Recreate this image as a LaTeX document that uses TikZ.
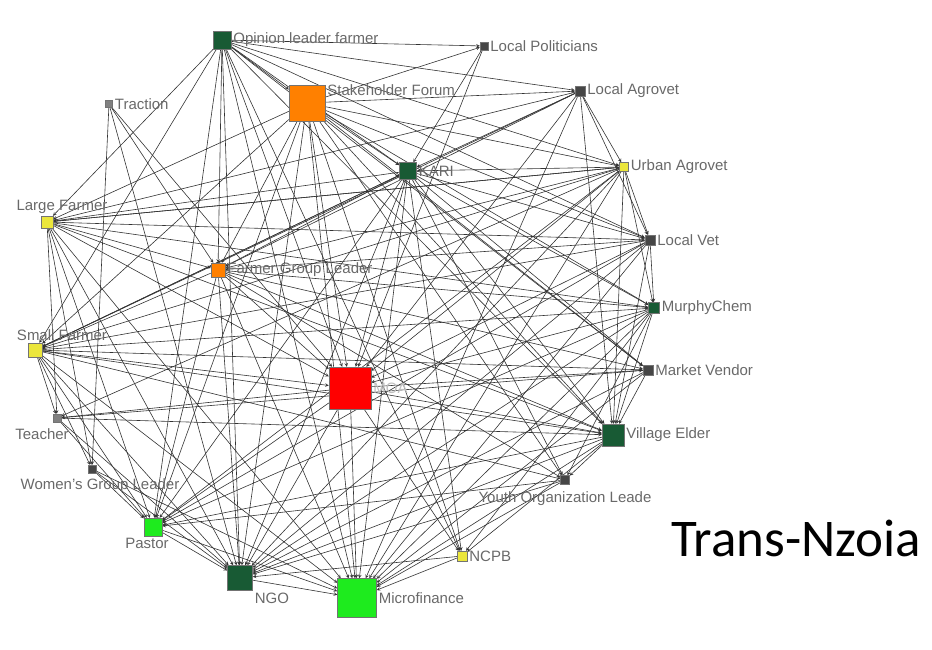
\documentclass[tikz,border=0pt]{standalone}
\usepackage{fontspec}
\setmainfont{Liberation Sans}
\newfontfamily\titlefont{Carlito}
\usepackage{tikz}
\usetikzlibrary{arrows, backgrounds}
\definecolor{dkgreen}{RGB}{24,90,52}
\definecolor{forum}{RGB}{255,128,0}
\definecolor{ltgreen}{RGB}{30,235,30}
\definecolor{farmyellow}{RGB}{235,230,60}
\definecolor{minor}{RGB}{70,70,70}
\definecolor{lblgray}{RGB}{105,105,105}
\tikzset{
    actor/.style={rectangle, draw=black!55, minimum size=#1, inner sep=0pt},
    lbl/.style={font=\fontsize{15}{15}\selectfont, text=lblgray, inner sep=2pt},
    link/.style={->, >=stealth, draw=black!80, line width=0.6pt}
}

\begin{document}
\begin{tikzpicture}[x=1pt, y=-1pt]
    \useasboundingbox (0,0) rectangle (932,649);
    % actors
    \node (olf)    at (222,40)  [actor=18, fill=dkgreen,    label={[lbl]right:Opinion leader farmer}] {};
    \node (pol)    at (484,46)  [actor=8,  fill=minor,      label={[lbl]right:Local Politicians}] {};
    \node (trac)   at (109,104) [actor=7,  fill=gray,       label={[lbl]right:Traction}] {};
    \node (sf)     at (307,103) [actor=36, fill=forum,      label={[lbl, yshift=13]right:Stakeholder Forum}] {};
    \node (lagro)  at (580,91)  [actor=10, fill=minor,      label={[lbl]right:Local Agrovet}] {};
    \node (uagro)  at (624,167) [actor=9,  fill=farmyellow, label={[lbl]right:Urban Agrovet}] {};
    \node (kari)   at (408,171) [actor=17, fill=dkgreen,    label={[lbl]right:KARI}] {};
    \node (lfarm)  at (47,222)  [actor=12, fill=farmyellow, label={[lbl, xshift=15]above:Large Farmer}] {};
    \node (lvet)   at (650,240) [actor=10, fill=minor,      label={[lbl]right:Local Vet}] {};
    \node (fgl)    at (218,270) [actor=14, fill=forum,      label={[lbl]right:Farmer Group Leader}] {};
    \node (murphy) at (654,308) [actor=11, fill=dkgreen,    label={[lbl]right:MurphyChem}] {};
    \node (sfarm)  at (35,350)  [actor=14, fill=farmyellow, label={[lbl, xshift=27]above:Small Farmer}] {};
    \node (moa)    at (350,388) [actor=42, fill=red,        label={[lbl, text=black!25]right:MOA}] {};
    \node (mvend)  at (648,370) [actor=10, fill=minor,      label={[lbl]right:Market Vendor}] {};
    \node (teach)  at (57,418)  [actor=8,  fill=gray,       label={[lbl, xshift=-15, yshift=-4]below:Teacher}] {};
    \node (elder)  at (613,435) [actor=22, fill=dkgreen,    label={[lbl]right:Village Elder}] {};
    \node (wgl)    at (92,469)  [actor=8,  fill=minor,      label={[lbl, xshift=8, yshift=-3]below:Women's Group Leader}] {};
    \node (youth)  at (565,480) [actor=9,  fill=minor,      label={[lbl, yshift=-5]below:Youth Organization Leade}] {};
    \node (pastor) at (153,527) [actor=18, fill=ltgreen,    label={[lbl, xshift=-6]below:Pastor}] {};
    \node (ncpb)   at (462,556) [actor=10, fill=farmyellow, label={[lbl]right:NCPB}] {};
    \node (ngo)    at (240,578) [actor=25, fill=dkgreen,    label={[lbl]below right:NGO}] {};
    \node (micro)  at (357,598) [actor=39, fill=ltgreen,    label={[lbl]right:Microfinance}] {};
    \node (county) at (796,538) [font=\titlefont\fontsize{53}{53}\selectfont] {Trans-Nzoia};
    % ties
    \begin{pgfonlayer}{background}
    \foreach \t in {pol,lagro,uagro,sf,kari,fgl,moa,micro,ngo,elder,lfarm,sfarm,mvend,ncpb,pastor,lvet}
        \draw[link] (olf) -- (\t);
    \foreach \t in {fgl,moa,ngo,wgl}
        \draw[link] (trac) -- (\t);
    \foreach \t in {pol,lagro,uagro,kari,lvet,fgl,moa,micro,ngo,pastor,elder,murphy,ncpb,youth,lfarm,sfarm,mvend}
        \draw[link] (sf) -- (\t);
    \foreach \t in {kari,moa}
        \draw[link] (pol) -- (\t);
    \foreach \t in {kari,fgl,moa,lfarm,uagro,micro,sfarm,elder,lvet}
        \draw[link] (lagro) -- (\t);
    \foreach \t in {lvet,murphy,kari,fgl,lfarm,sfarm,moa,micro,ngo,pastor,elder,teach}
        \draw[link] (uagro) -- (\t);
    \foreach \t in {lfarm,fgl,moa,micro,ngo,elder,lvet,murphy,mvend,youth,ncpb,sfarm,pastor}
        \draw[link] (kari) -- (\t);
    \foreach \t in {lvet,murphy,uagro,moa,elder,pastor,ngo,micro,wgl,teach,fgl}
        \draw[link] (lfarm) -- (\t);
    \foreach \t in {fgl,moa,sfarm,murphy,ngo,micro,pastor,elder}
        \draw[link] (lvet) -- (\t);
    \foreach \t in {moa,micro,ngo,pastor,elder,murphy,mvend,youth,sfarm}
        \draw[link] (fgl) -- (\t);
    \foreach \t in {moa,elder,murphy,mvend,pastor,ngo,micro,teach,wgl,youth,kari}
        \draw[link] (sfarm) -- (\t);
    \foreach \t in {moa,ngo,micro,elder,ncpb,pastor,youth}
        \draw[link] (murphy) -- (\t);
    \foreach \t in {micro,ngo,pastor,elder,ncpb,teach,mvend}
        \draw[link] (moa) -- (\t);
    \foreach \t in {elder,ngo,micro,teach}
        \draw[link] (mvend) -- (\t);
    \foreach \t in {elder,pastor,ngo}
        \draw[link] (teach) -- (\t);
    \foreach \t in {ngo,micro,pastor,ncpb,youth}
        \draw[link] (elder) -- (\t);
    \foreach \t in {micro,ngo,pastor}
        \draw[link] (wgl) -- (\t);
    \foreach \t in {ngo,micro,pastor}
        \draw[link] (youth) -- (\t);
    \foreach \t in {micro,ngo}
        \draw[link] (pastor) -- (\t);
    \foreach \t in {micro,ngo}
        \draw[link] (ncpb) -- (\t);
    \draw[link] (ngo) -- (micro);
    \end{pgfonlayer}
\end{tikzpicture}
\end{document}
